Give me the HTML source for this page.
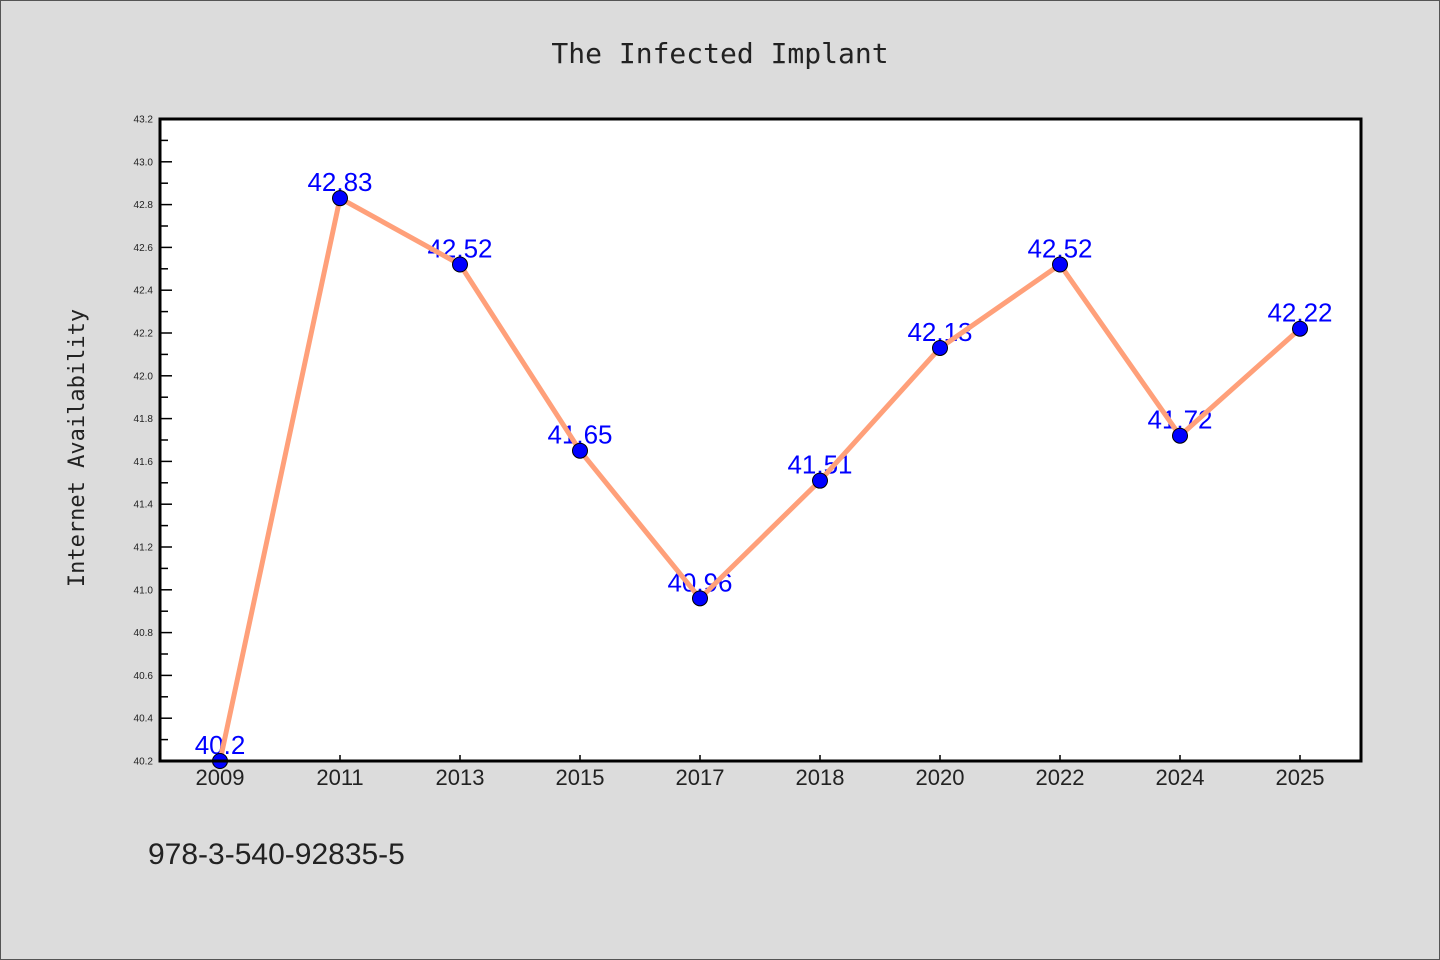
<!DOCTYPE html>
<html><head><meta charset="utf-8"><style>
html,body{margin:0;padding:0;background:#dcdcdc;}
svg{display:block;font-family:"Liberation Sans","DejaVu Sans",sans-serif;}
</style></head><body>
<svg id="chart" width="1440" height="960">
<rect x="0.5" y="0.5" width="1439" height="959" fill="#dcdcdc" stroke="#555"/>
<text x="720" y="63" text-anchor="middle" font-family="DejaVu Sans Mono, Liberation Mono, monospace" font-size="28" fill="#222">The Infected Implant</text>
<rect x="160" y="119" width="1201" height="642" fill="#fff"/>
<g id="axes"></g>
<g id="series"></g>
<rect x="160" y="119" width="1201" height="642" fill="none" stroke="#000" stroke-width="3"/>
<text transform="translate(84,448) rotate(-90)" text-anchor="middle" font-family="DejaVu Sans Mono, Liberation Mono, monospace" font-size="22" fill="#222">Internet Availability</text>
<text x="148" y="864" font-size="30" fill="#222">978-3-540-92835-5</text>
</svg>
<script>
const categories=["2009","2011","2013","2015","2017","2018","2020","2022","2024","2025"];
const values=[40.2,42.83,42.52,41.65,40.96,41.51,42.13,42.52,41.72,42.22];
const valueLabels=["40.2","42.83","42.52","41.65","40.96","41.51","42.13","42.52","41.72","42.22"];
const yTicks=[40.2,40.4,40.6,40.8,41.0,41.2,41.4,41.6,41.8,42.0,42.2,42.4,42.6,42.8,43.0,43.2];
const yMin=40.2,yMax=43.2;
const NS="http://www.w3.org/2000/svg";
function y(v){return 761-(v-yMin)/(yMax-yMin)*642;}
function x(i){return 220+i*120;}
const axes=document.getElementById('axes'),series=document.getElementById('series');
function mk(tag,attrs,parent){const e=document.createElementNS(NS,tag);for(const k in attrs)e.setAttribute(k,attrs[k]);parent.appendChild(e);return e;}
yTicks.forEach((t,i)=>{
  const yy=y(t);
  const tk=mk('line',{x1:160,x2:172,y1:yy,y2:yy,stroke:'#000','stroke-width':1.5},axes);
  
  
  if(i<yTicks.length-1){const ym=y(t+0.1);const m=mk('line',{x1:160,x2:168,y1:ym,y2:ym,stroke:'#000','stroke-width':1.5},axes);
  
  }
  const lb=mk('text',{x:153,y:yy+3.5,'text-anchor':'end','font-size':10,fill:'#222'},axes);
  lb.textContent=t.toFixed(1);
  
  
});
categories.forEach((c,i)=>{
  const tk=mk('line',{x1:x(i),x2:x(i),y1:761,y2:755,stroke:'#000','stroke-width':1.5},axes);
  
  
  const lb=mk('text',{x:x(i),y:785,'text-anchor':'middle','font-size':22,fill:'#222'},axes);
  lb.textContent=c;
  
  
});
values.forEach((v,i)=>{
  const t=mk('text',{x:x(i),y:y(v)-7,'text-anchor':'middle','font-size':26,fill:'#0000ff'},series);
  t.textContent=valueLabels[i];
  
  
});
const pl=mk('polyline',{points:values.map((v,i)=>x(i)+','+y(v)).join(' '),fill:'none',stroke:'#ffa07a','stroke-width':5,'stroke-linejoin':'round'},series);


values.forEach((v,i)=>{
  const c=mk('circle',{cx:x(i),cy:y(v),r:7.5,fill:'#0000ff',stroke:'#000','stroke-width':1},series);
  
  
});
</script>
</body></html>
